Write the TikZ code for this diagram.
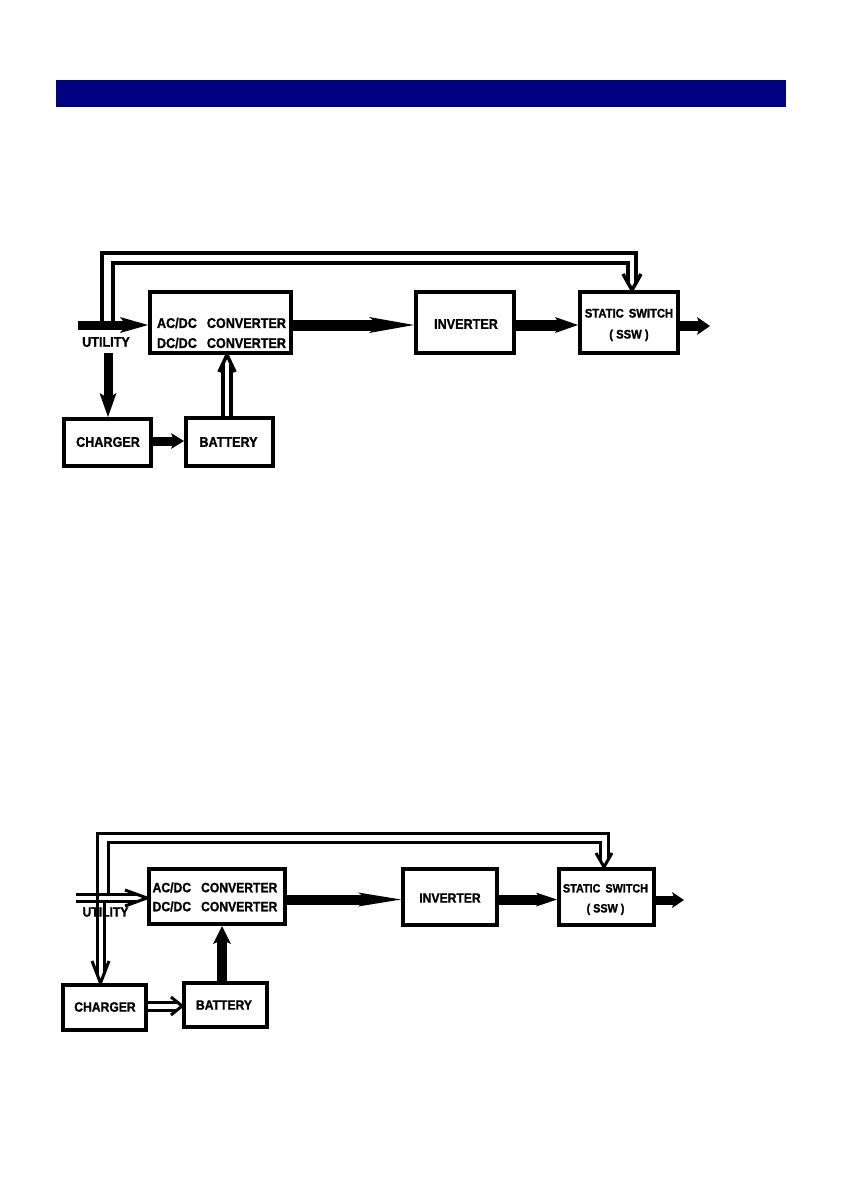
\documentclass[tikz,border=0pt]{standalone}
\usepackage{fontspec}
\newfontfamily\lbl{Liberation Sans}[FakeStretch=0.9,BoldFeatures={FakeBold=1.2}]
\usetikzlibrary{arrows.meta,calc}
\definecolor{barblue}{RGB}{0,0,128}
\begin{document}
\begin{tikzpicture}[x=1pt,y=-1pt,
  box/.style={draw,line width=4pt,inner sep=0pt},
  lab/.style={inner sep=0pt,align=center,font=\lbl\bfseries\fontsize{14}{20}\selectfont},
  labs/.style={inner sep=0pt,align=center,font=\lbl\bfseries\fontsize{13.5}{19}\selectfont},
  sswf/.style={inner sep=0pt,align=center,font=\lbl\bfseries\fontsize{12.5}{21}\selectfont},
  sswfs/.style={inner sep=0pt,align=center,font=\lbl\bfseries\fontsize{12}{20}\selectfont},
  fat/.style n args={4}{line width=#1pt,-{Stealth[length=#2pt,width=#3pt,inset=#4pt,line width=0pt]}},
  hl/.style={line width=3.5pt,line join=miter},
  hls/.style={line width=3pt,line join=miter}]
\useasboundingbox (0,0) rectangle (842,1190);
\fill[barblue] (56,80) rectangle (786,107);

% ---------------- top diagram ----------------
\node[box,minimum width=141pt,minimum height=61pt] (acdc) at (220.5,322.5) {};
\node[box,minimum width=98pt,minimum height=61pt] (inv) at (465,322.5) {};
\node[box,minimum width=98pt,minimum height=61pt] (ssw) at (629,322.5) {};
\node[box,minimum width=87pt,minimum height=47pt] (chg) at (107.5,442.5) {};
\node[box,minimum width=87pt,minimum height=48pt] (bat) at (229.5,442) {};
\node[lab] (acdcT) at (221.5,333) {AC/DC\hspace{10pt}CONVERTER\\DC/DC\hspace{10pt}CONVERTER};
\node[lab] (invT) at (466,324) {INVERTER};
\node[sswf] (sswT) at (629,325) {STATIC\hspace{5pt}SWITCH\\( SSW )};
\node[lab] (chgT) at (108,442) {CHARGER};
\node[lab] (batT) at (228.5,442) {BATTERY};
\node[lab] (util) at (106,342) {UTILITY};

\coordinate (uin) at (78,325);
\coordinate (out) at (710,326);
\coordinate (uc) at (108,353);
\coordinate (cb) at (0,441);
\draw[fat={9}{28}{16}{6}] (uin) -- (uin -| acdc.west);
\draw[fat={11}{45}{16}{10}] (acdc.east |- uin) -- (inv.west |- uin);
\draw[fat={11}{23}{16}{5}] (inv.east |- uin) -- (ssw.west |- uin);
\draw[fat={10}{13}{18}{3}] (ssw.east |- out) -- (out);
\draw[fat={9}{24}{17}{5}] (uc) -- (uc |- chg.north);
\draw[fat={9}{13}{16}{3}] (chg.east |- cb) -- (bat.west |- cb);

% battery -> converter (hollow)
\coordinate (bt) at ($(acdc.south)+(6.5,0)$);
\draw[hl] ($(bt |- bat.north)+(-4,0)$) -- ($(bt)+(-4,8.5)$);
\draw[hl] ($(bt |- bat.north)+(4,0)$) -- ($(bt)+(4,8.5)$);
\draw[hl] ($(bt)+(-8,17)$) -- (bt) -- ($(bt)+(8,17)$);

% bypass (hollow)
\coordinate (bpt) at ($(ssw.north)+(3,0)$);
\coordinate (bo) at (102,325);
\coordinate (bi) at (113,325);
\draw[hl] (bo) -- (102,253) -- ($(bpt)+(4,-37)$) -- ($(bpt)+(4,-7)$);
\draw[hl] (bi) -- (113,263) -- ($(bpt)+(-4,-27)$) -- ($(bpt)+(-4,-7)$);
\draw[hl] ($(bpt)+(-9,-16)$) -- (bpt) -- ($(bpt)+(9,-16)$);

% ---------------- bottom diagram ----------------
\node[box,minimum width=136pt,minimum height=55pt] (acdc2) at (217,896.5) {};
\node[box,minimum width=94pt,minimum height=56pt] (inv2) at (450,897) {};
\node[box,minimum width=95pt,minimum height=56pt] (ssw2) at (606.5,897) {};
\node[box,minimum width=83pt,minimum height=45pt] (chg2) at (104.5,1007.5) {};
\node[box,minimum width=83pt,minimum height=44pt] (bat2) at (225.5,1005) {};
\node[labs] (acdc2T) at (215,897) {AC/DC\hspace{10pt}CONVERTER\\DC/DC\hspace{10pt}CONVERTER};
\node[labs] (inv2T) at (450,898) {INVERTER};
\node[sswfs] (ssw2T) at (605.5,899.5) {STATIC\hspace{5pt}SWITCH\\( SSW )};
\node[labs] (chg2T) at (105,1007) {CHARGER};
\node[labs] (bat2T) at (224,1005) {BATTERY};
\node[labs] (util2) at (105.5,912) {UTILITY};

\coordinate (m2) at (0,899.5);
\coordinate (out2) at (684,900);
\coordinate (b2) at (222,0);
\draw[fat={10}{43}{14}{10}] (acdc2.east |- m2) -- (inv2.west |- m2);
\draw[fat={10}{21}{14}{5}] (inv2.east |- m2) -- (ssw2.west |- m2);
\draw[fat={9}{12}{16}{3}] (ssw2.east |- out2) -- (out2);
\draw[fat={10}{18}{18}{4}] (b2 |- bat2.north) -- (b2 |- acdc2.south);

% utility input (hollow)
\coordinate (ut) at (147,898);
\coordinate (ui) at (76,898);
\draw[hls] ($(ui)+(0,-3.5)$) -- ($(ut -| acdc2.west)+(-9.6,-3.5)$);
\draw[hls] ($(ui)+(0,3.5)$) -- ($(ut -| acdc2.west)+(-9.6,3.5)$);
\draw[hls] ($(ut -| acdc2.west)+(-22,-8)$) -- (ut -| acdc2.west) -- ($(ut -| acdc2.west)+(-22,8)$);

% utility -> charger (hollow), and bypass
\coordinate (ct) at ($(chg2.north)+(-4,0)$);
\coordinate (bpt2) at ($(ssw2.north)+(-2.5,0)$);
\draw[hls] ($(ct)+(-3.5,-9)$) -- (97,833) -- ($(bpt2)+(4,-34)$) -- ($(bpt2)+(4,-7)$);
\draw[hls] (108,894.5) -- (108,842) -- ($(bpt2)+(-4,-25)$) -- ($(bpt2)+(-4,-7)$);
\draw[hls] ($(bpt2)+(-8,-14)$) -- (bpt2) -- ($(bpt2)+(8,-14)$);
\draw[hls] (104,901.5) -- ($(ct)+(3.5,-9)$);
\draw[hls] ($(ct)+(-8.5,-22)$) -- (ct) -- ($(ct)+(8.5,-22)$);

% charger -> battery (hollow)
\coordinate (cbt) at (182,1006);
\draw[hls] ($(chg2.east |- cbt)+(0,-4)$) -- ($(bat2.west |- cbt)+(-5,-4)$);
\draw[hls] ($(chg2.east |- cbt)+(0,4)$) -- ($(bat2.west |- cbt)+(-5,4)$);
\draw[hls] ($(bat2.west |- cbt)+(-11,-9)$) -- (bat2.west |- cbt) -- ($(bat2.west |- cbt)+(-11,9)$);
\end{tikzpicture}
\end{document}
